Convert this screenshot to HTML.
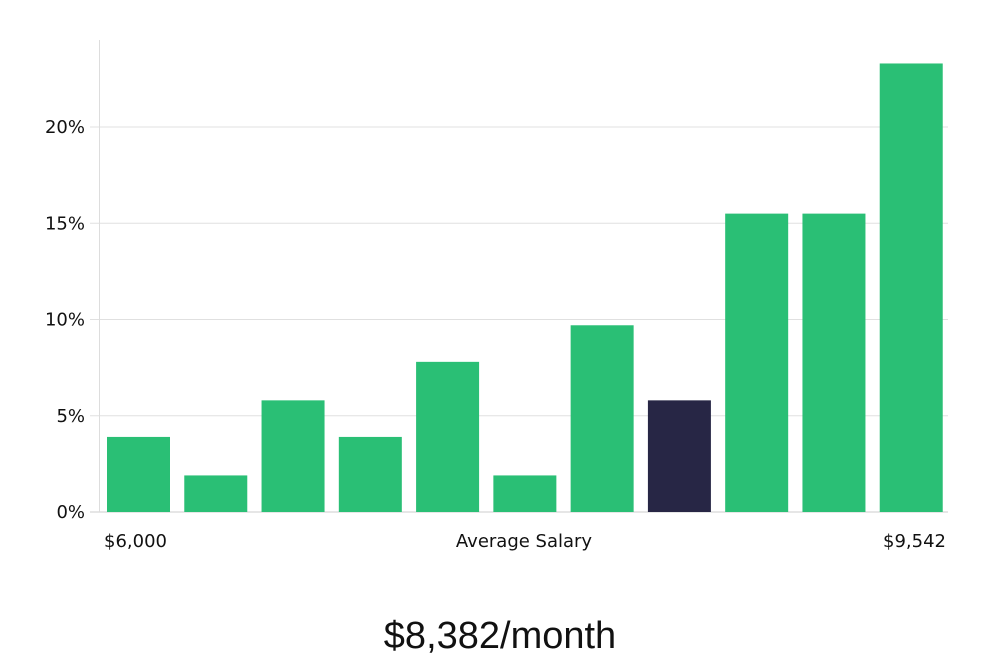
<!DOCTYPE html>
<html><head><meta charset="utf-8"><style>
body{margin:0;background:#fff;width:1000px;height:660px;overflow:hidden;font-family:"DejaVu Sans","Liberation Sans",sans-serif}
</style></head><body>
<svg width="1000" height="660">
<g id="grid"></g><g id="bars"></g><g id="labels"></g>
<text x="104" y="547" font-size="18" fill="#111">$6,000</text>
<text x="524" y="547" font-size="18" fill="#111" text-anchor="middle">Average Salary</text>
<text x="946" y="547" font-size="18" fill="#111" text-anchor="end">$9,542</text>
<text x="500" y="648" font-size="38" fill="#111" text-anchor="middle" font-family="Liberation Sans, sans-serif">$8,382/month</text>
</svg>
<script>
const categories=["b1","b2","b3","b4","b5","b6","b7","b8","b9","b10","b11"];
const values=[3.9,1.9,5.8,3.9,7.8,1.9,9.7,5.8,15.5,15.5,23.3];
const highlight=[0,0,0,0,0,0,0,1,0,0,0];
const ticks=[0,5,10,15,20];
const tickLabels=["0%","5%","10%","15%","20%"];
const NS="http://www.w3.org/2000/svg";
const y0=512,pxPer=(512-127)/20;
function y(v){return y0-v*pxPer;}
const left=107,right=943,n=categories.length,step=(right-left+14)/n,bw=63;
function x(i){return left+i*step;}
const grid=document.getElementById('grid'),bars=document.getElementById('bars'),labels=document.getElementById('labels');
ticks.forEach((t,i)=>{
 const l=document.createElementNS(NS,'line');
 l.setAttribute('x1',90);l.setAttribute('x2',948);l.setAttribute('y1',y(t));l.setAttribute('y2',y(t));
 l.setAttribute('stroke',t===0?'#ccc':'#e0e0e0');l.setAttribute('stroke-width',1);
 
 
 grid.appendChild(l);
 const tx=document.createElementNS(NS,'text');
 tx.setAttribute('x',85);tx.setAttribute('y',y(t)+6);tx.setAttribute('text-anchor','end');
 tx.setAttribute('font-size',18);tx.setAttribute('fill','#111');tx.textContent=tickLabels[i];
 
 
 labels.appendChild(tx);
});
const ax=document.createElementNS(NS,'line');
ax.setAttribute('x1',99.5);ax.setAttribute('x2',99.5);ax.setAttribute('y1',40);ax.setAttribute('y2',512);
ax.setAttribute('stroke','#ddd');


grid.appendChild(ax);
values.forEach((v,i)=>{
 const r=document.createElementNS(NS,'rect');
 r.setAttribute('x',x(i));r.setAttribute('y',y(v));r.setAttribute('width',bw);r.setAttribute('height',y0-y(v));
 r.setAttribute('fill',highlight[i]?'#272645':'#2abf75');
 
 
 bars.appendChild(r);
});
</script>
</body></html>
